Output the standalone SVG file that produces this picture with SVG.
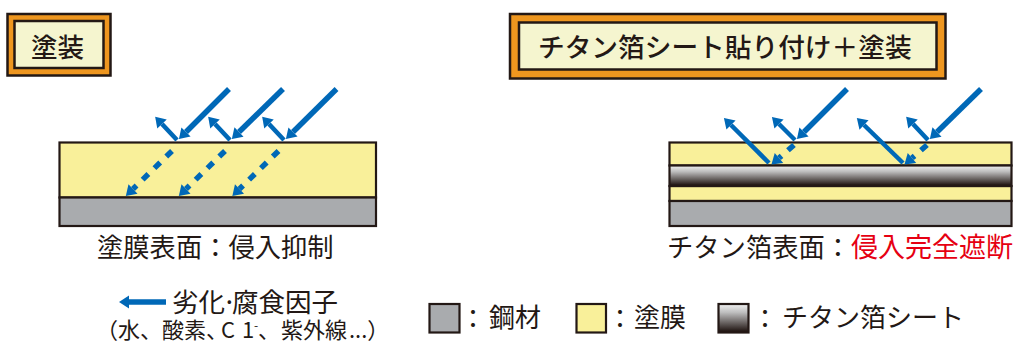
<svg xmlns="http://www.w3.org/2000/svg" width="1014" height="343" viewBox="0 0 1014 343">
<style>
text{font-family:"Noto Sans CJK JP","Noto Sans CJK SC",sans-serif;fill:#231815;font-size:26px}
.t{font-weight:500}
.o{fill:#ee961f;stroke:#231815;stroke-width:2.5}
.i{fill:#f5f5cf;stroke:#231815;stroke-width:2.5}
.y{fill:#f9f09a;stroke:#231815;stroke-width:2.2}
.g{fill:#a9abae;stroke:#231815;stroke-width:2.2}
.f{fill:url(#foil);stroke:#231815;stroke-width:2.2}
.a{fill:none;stroke:#0068b7;stroke-width:5.500;marker-end:url(#h)}
.b{fill:none;stroke:#0068b7;stroke-width:4.500;marker-end:url(#h)}
.d{fill:none;stroke:#0068b7;stroke-width:5.500;stroke-dasharray:8 8.500;marker-end:url(#h)}
</style>
<defs>
<linearGradient id="foil" x1="0" y1="0" x2="0" y2="1"><stop offset="0" stop-color="#f2f2f2"/><stop offset="0.3" stop-color="#bdbdbd"/><stop offset="0.95" stop-color="#231815"/></linearGradient>
<marker id="h" markerUnits="userSpaceOnUse" markerWidth="11" markerHeight="14" refX="0" refY="7" orient="auto" overflow="visible"><path d="M0,0.500L10,7L0,13.500Z" fill="#0068b7"/></marker>
</defs>
<g id="title-left">
<rect class="o" x="7.500" y="14" width="103" height="61.500"/>
<rect class="i" x="14.500" y="21" width="89" height="47"/>
<text class="t" x="31" y="56.500" style="font-size:26.500px">塗装</text>
</g>
<g id="title-right">
<rect class="o" x="510" y="14" width="435.500" height="64.500"/>
<rect class="i" x="519" y="22.500" width="417.500" height="47"/>
<text class="t" x="538" y="56.500" style="font-size:26.700px">チタン箔シート貼り付け＋塗装</text>
</g>
<g id="panel-left">
<rect class="y" x="59.500" y="142.500" width="316.500" height="55"/>
<rect class="g" x="59.500" y="197.500" width="316.500" height="28.500"/>
<text x="97" y="257" style="font-size:26.300px">塗膜表面：侵入抑制</text>
</g>
<g id="panel-right">
<rect class="y" x="669.500" y="142.500" width="342" height="23"/>
<rect class="y" x="669.500" y="186" width="342" height="15"/>
<rect class="f" x="669.500" y="165.500" width="342" height="20.500"/>
<rect class="g" x="669.500" y="201" width="342" height="25"/>
<text x="667" y="257" style="font-size:26.300px">チタン箔表面：</text>
<text x="851" y="257" style="font-size:27px;fill:#e60012">侵入完全遮断</text>
</g>
<g id="connectors">
<path class="a" d="M229,89L186,132"/>
<path class="a" d="M283,89L239,132"/>
<path class="a" d="M336.500,89L293,132"/>
<path class="b" d="M177,140L162,124"/>
<path class="b" d="M230,140L215,124"/>
<path class="b" d="M284,140L269,124"/>
<path class="d" d="M172,151L133,189"/>
<path class="d" d="M225,151L186,189"/>
<path class="d" d="M278.500,151L239.500,189"/>
<path class="a" d="M847,89L804,132"/>
<path class="a" d="M981,89L937,132"/>
<path class="b" d="M795,140L779,124"/>
<path class="b" d="M928,140L913,124"/>
<path class="b" d="M769,163L731,125"/>
<path class="b" d="M903,163L864,125"/>
<path class="d" d="M794,145L779,158"/>
<path class="d" d="M927,145L912,158"/>
<path class="a" d="M166,302L129,302"/>
</g>
<g id="legend-factors">
<text x="172" y="312" style="font-size:26.500px">劣化<tspan x="222">·</tspan><tspan x="232">腐食因子</tspan></text>
<text y="338" style="font-size:22px"><tspan x="96">（水、酸素、</tspan><tspan x="221">C</tspan><tspan x="242">1</tspan><tspan x="254" dy="-8" style="font-size:12px">-</tspan><tspan x="258" dy="8">、</tspan><tspan x="281">紫外線</tspan><tspan x="349">...）</tspan></text>
</g>
<g id="legend-steel">
<rect class="g" x="429.500" y="304" width="30" height="28.500"/>
<text x="460" y="328">：</text>
<text x="489" y="327">鋼材</text>
</g>
<g id="legend-coat">
<rect class="y" x="576.500" y="304" width="29.500" height="28.500"/>
<text x="607" y="328">：</text>
<text x="634" y="327">塗膜</text>
</g>
<g id="legend-foil">
<rect class="f" x="718.500" y="304" width="30" height="28.500"/>
<text x="752" y="328">：</text>
<text x="782" y="327">チタン箔シート</text>
</g>
</svg>
